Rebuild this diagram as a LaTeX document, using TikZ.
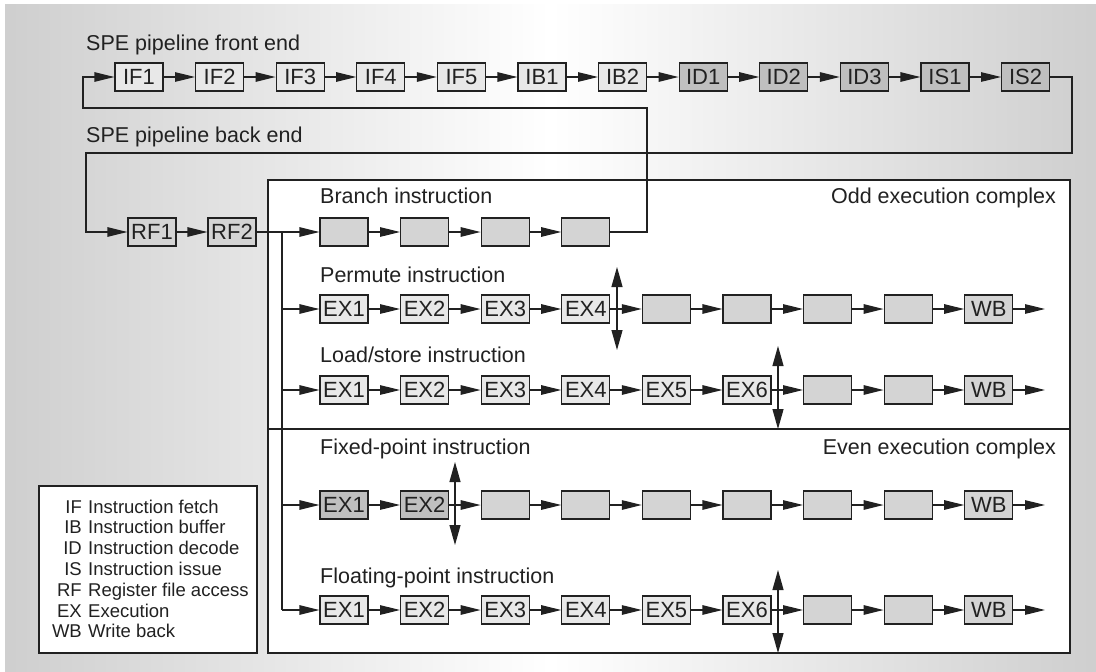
\documentclass[tikz,border=0pt]{standalone}
\usepackage{fontspec}
\setmainfont{Liberation Sans}
\usetikzlibrary{arrows.meta}
\definecolor{bgedge}{gray}{0.81}
\definecolor{inkc}{gray}{0.13}
\definecolor{lightf}{gray}{0.91}
\definecolor{midf}{gray}{0.83}
\definecolor{darkf}{gray}{0.75}
\begin{document}
\begin{tikzpicture}[x=1pt,y=-1pt,
  stagebox/.style={draw=inkc, line width=1.2pt, minimum width=48pt, minimum height=28pt, inner sep=0pt, font=\fontsize{22}{22}\selectfont, text=inkc},
  light/.style={stagebox, fill=lightf},
  mid/.style={stagebox, fill=midf},
  dark/.style={stagebox, fill=darkf},
  conn/.style={line width=1.2pt, draw=inkc},
  arr/.style={conn, -{Triangle[length=20pt,width=9.5pt]}},
  dbl/.style={conn, {Triangle[length=20pt,width=11pt]}-{Triangle[length=20pt,width=11pt]}},
  lbl/.style={anchor=base west, inner sep=0pt, font=\fontsize{21.5}{21.5}\selectfont, text=inkc},
  rlbl/.style={anchor=base east, inner sep=0pt, font=\fontsize{21.5}{21.5}\selectfont, text=inkc},
  panel/.style={draw=inkc, line width=1.2pt, fill=white},
  legk/.style={anchor=base east, inner sep=0pt, font=\fontsize{18.5}{18.5}\selectfont, text=inkc},
  legv/.style={anchor=base west, inner sep=0pt, font=\fontsize{18.5}{18.5}\selectfont, text=inkc}
]
\useasboundingbox (0,0) rectangle (1096,672);
\shade[left color=bgedge, right color=bgedge, middle color=white] (5,4) rectangle (1096,672);

% panels
\draw[panel] (268,180) rectangle (1070,653);
\draw[conn] (268,429) -- (1070,429);
\draw[panel] (39,486) rectangle (257,653);

% labels
\node[lbl] (tfront) at (86,50) {SPE pipeline front end};
\node[lbl] (tback) at (86,142) {SPE pipeline back end};
\node[lbl] (tbranch) at (320,203) {Branch instruction};
\node[rlbl] (todd) at (1056,203) {Odd execution complex};
\node[lbl] (tperm) at (320,282) {Permute instruction};
\node[lbl] (tload) at (320,362) {Load/store instruction};
\node[lbl] (tfixed) at (320,454) {Fixed-point instruction};
\node[rlbl] (teven) at (1056,454) {Even execution complex};
\node[lbl] (tfloat) at (320,583) {Floating-point instruction};

% front end
\foreach \n/\s [count=\i from 0] in {IF1/light,IF2/light,IF3/light,IF4/light,IF5/light,IB1/light,IB2/light,ID1/dark,ID2/dark,ID3/dark,IS1/dark,IS2/dark}
  \node[\s] (\n) at ({139+80.6*\i},77) {\n};
\foreach \a/\b in {IF1/IF2,IF2/IF3,IF3/IF4,IF4/IF5,IF5/IB1,IB1/IB2,IB2/ID1,ID1/ID2,ID2/ID3,ID3/IS1,IS1/IS2}
  \draw[arr] (\a) -- (\b);

% back end
\node[mid] (RF1) at (152,232) {RF1};
\node[mid] (RF2) at (232,232) {RF2};
\draw[arr] (RF1) -- (RF2);
\coordinate (beR) at (1072,153);
\coordinate (beL) at (86,153);
\draw[arr] (IS2.east) -| (beR) -- (beL) |- (RF1.west);

% rows
\foreach \k in {0,...,3}
  \node[mid] (b\k) at ({344+80.6*\k},232) {};
\foreach \t/\s [count=\k from 0] in {EX1/light,EX2/light,EX3/light,EX4/light,/mid,/mid,/mid,/mid,WB/mid}
  \node[\s] (p\k) at ({344+80.6*\k},309) {\t};
\foreach \t/\s [count=\k from 0] in {EX1/light,EX2/light,EX3/light,EX4/light,EX5/light,EX6/light,/mid,/mid,WB/mid}
  \node[\s] (l\k) at ({344+80.6*\k},390) {\t};
\foreach \t/\s [count=\k from 0] in {EX1/dark,EX2/dark,/mid,/mid,/mid,/mid,/mid,/mid,WB/mid}
  \node[\s] (f\k) at ({344+80.6*\k},505) {\t};
\foreach \t/\s [count=\k from 0] in {EX1/light,EX2/light,EX3/light,EX4/light,EX5/light,EX6/light,/mid,/mid,WB/mid}
  \node[\s] (g\k) at ({344+80.6*\k},610) {\t};

\foreach \k in {0,1,2}{\pgfmathtruncatemacro\j{\k+1}\draw[arr] (b\k) -- (b\j);}
\foreach \r in {p,l,f,g}{
  \foreach \k in {0,...,7}{\pgfmathtruncatemacro\j{\k+1}\draw[arr] (\r\k) -- (\r\j);}
}
\coordinate (pend) at (1045,309);
\coordinate (lend) at (1045,390);
\coordinate (fend) at (1045,505);
\coordinate (gend) at (1045,610);
\draw[arr] (p8) -- (pend);
\draw[arr] (l8) -- (lend);
\draw[arr] (f8) -- (fend);
\draw[arr] (g8) -- (gend);

% bus
\coordinate (busT) at (282,232);
\coordinate (busP) at (282,309);
\coordinate (busL) at (282,390);
\coordinate (busF) at (282,505);
\coordinate (busG) at (282,610);
\draw[arr] (RF2) -- (b0);
\draw[conn] (busT) -- (busG);
\draw[arr] (busP) -- (p0);
\draw[arr] (busL) -- (l0);
\draw[arr] (busF) -- (f0);
\draw[arr] (busG) -- (g0);

% feedback loop
\coordinate (fbT) at (647,108);
\coordinate (fbL) at (83,108);
\draw[arr] (b3.east) -| (fbT) -- (fbL) |- (IF1.west);

% double arrows
\coordinate (d1t) at (617,267); \coordinate (d1b) at (617,350);
\coordinate (d2t) at (778,346); \coordinate (d2b) at (778,429);
\coordinate (d3t) at (455,462); \coordinate (d3b) at (455,545);
\coordinate (d4t) at (778,570); \coordinate (d4b) at (778,653);
\draw[dbl] (d1t) -- (d1b);
\draw[dbl] (d2t) -- (d2b);
\draw[dbl] (d3t) -- (d3b);
\draw[dbl] (d4t) -- (d4b);

% legend
\foreach \a/\d [count=\i from 0] in {IF/Instruction fetch,IB/Instruction buffer,ID/Instruction decode,IS/Instruction issue,RF/Register file access,EX/Execution,WB/Write back}{
  \node[legk] (lk\i) at (82,{513+20.8*\i}) {\a};
  \node[legv] (lv\i) at (88,{513+20.8*\i}) {\d};
}
\end{tikzpicture}
\end{document}
